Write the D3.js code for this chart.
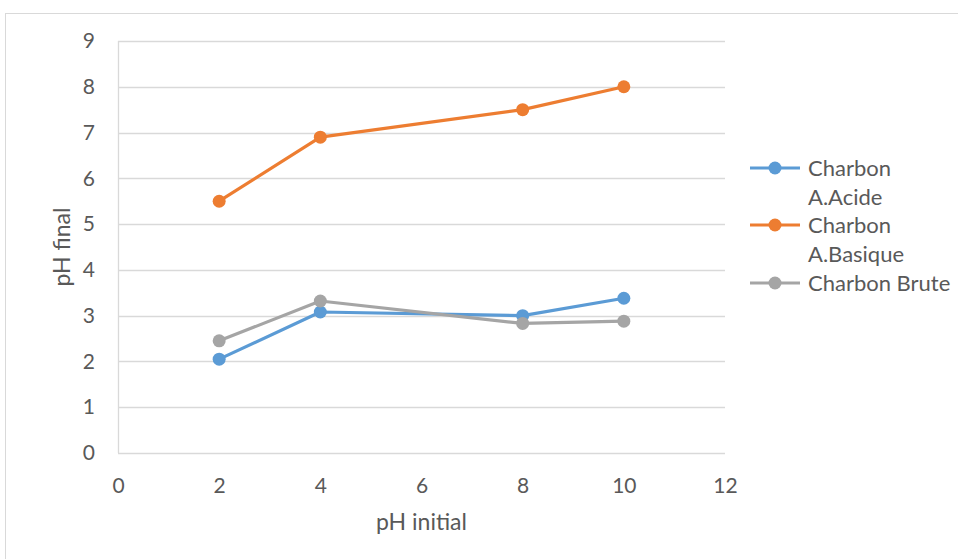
<!DOCTYPE html>
<html>
<head>
<meta charset="utf-8">
<script src="https://cdn.jsdelivr.net/npm/d3@7"></script>
<style>
  body { margin: 0; background: #fff; }
  text { font-family: Lato, "Open Sans", sans-serif; fill: #595959; }
</style>
</head>
<body>
<script>
/* global d3 */

// Data
const phInitial = [2, 4, 8, 10];
const acide = [2.05, 3.08, 3.0, 3.38];
const basique = [5.5, 6.9, 7.5, 8.0];
const brute = [2.45, 3.32, 2.83, 2.88];
const seriesNames = ['Charbon A.Acide', 'Charbon A.Basique', 'Charbon Brute'];
const legendLines = [['Charbon', 'A.Acide'], ['Charbon', 'A.Basique'], ['Charbon Brute']];
const xTicks = [0, 2, 4, 6, 8, 10, 12];
const yTicks = [0, 1, 2, 3, 4, 5, 6, 7, 8, 9];

const colors = ['#5B9BD5', '#ED7D31', '#A5A5A5'];

// SVG setup
const width = 958;
const height = 559;
const margin = {left: 118, right: 233, top: 41, bottom: 106};

const svg = d3.select('body')
.append('svg')
.attr('width', width)
.attr('height', height);

// chart frame
svg.append('rect')
.attr('x', 5.5)
.attr('y', 13.5)
.attr('width', 1000)
.attr('height', 600)
.attr('fill', 'none')
.attr('stroke', '#d9d9d9');

const xScale = d3.scaleLinear()
.domain([0, 12])
.range([margin.left, width - margin.right]);

const yScale = d3.scaleLinear()
.domain([0, 9])
.range([height - margin.bottom, margin.top]);

// gridlines
svg.append('g')
.selectAll('line')
.data(yTicks)
.enter()
.append('line')
.attr('x1', xScale(0))
.attr('x2', xScale(12))
.attr('y1', d => Math.round(yScale(d)) + 0.5)
.attr('y2', d => Math.round(yScale(d)) + 0.5)
.attr('stroke', '#d9d9d9')
.attr('stroke-width', 1.3);

// y axis line
svg.append('line')
.attr('x1', xScale(0) + 0.5)
.attr('x2', xScale(0) + 0.5)
.attr('y1', yScale(0))
.attr('y2', yScale(9))
.attr('stroke', '#d9d9d9')
.attr('stroke-width', 1.3);

// Axes
const xAxis = svg.append('g')
.attr('transform', `translate(0, ${ yScale(0) })`)
.call(d3.axisBottom(xScale).tickValues(xTicks).tickSize(0).tickPadding(25));
xAxis.select('.domain').remove();
xAxis.selectAll('text').style('font-size', '21px');

const yAxis = svg.append('g')
.attr('transform', `translate(${ xScale(0) }, 0)`)
.call(d3.axisLeft(yScale).tickValues(yTicks).tickSize(0).tickPadding(23));
yAxis.select('.domain').remove();
yAxis.selectAll('text').style('font-size', '21px');

// axis titles
svg.append('text')
.attr('x', xScale(6))
.attr('y', 530)
.attr('text-anchor', 'middle')
.style('font-size', '23px')
.text('pH initial');

svg.append('text')
.attr('transform', `translate(70, ${ yScale(4.5) }) rotate(-90)`)
.attr('text-anchor', 'middle')
.style('font-size', '23px')
.text('pH final');

// Lines
const allSeries = [acide, basique, brute];
const line = d3.line()
.x((d, i) => xScale(phInitial[i]))
.y(d => yScale(d));

allSeries.forEach((values, s) => {
    const g = svg.append('g').attr('class', 'series').attr('data-name', seriesNames[s]);
    g.append('path')
    .datum(values)
    .attr('d', line)
    .attr('fill', 'none')
    .attr('stroke', colors[s])
    .attr('stroke-width', 3.2)
    .attr('stroke-linejoin', 'round');
    g.selectAll('circle')
    .data(values)
    .enter()
    .append('circle')
    .attr('cx', (d, i) => xScale(phInitial[i]))
    .attr('cy', d => yScale(d))
    .attr('r', 6.5)
    .attr('fill', colors[s]);
});

// Legend
const legendRows = [168, 225, 283];
legendLines.forEach((lines, s) => {
    const y = legendRows[s];
    svg.append('line')
    .attr('x1', 750)
    .attr('x2', 800)
    .attr('y1', y)
    .attr('y2', y)
    .attr('stroke', colors[s])
    .attr('stroke-width', 3.2);
    svg.append('circle')
    .attr('cx', 775)
    .attr('cy', y)
    .attr('r', 6.5)
    .attr('fill', colors[s]);
    lines.forEach((t, k) => {
        svg.append('text')
        .attr('x', 808)
        .attr('y', y + k * 29)
        .attr('dy', '0.35em')
        .style('font-size', '22px')
        .text(t);
    });
});
</script>
</body>
</html>
